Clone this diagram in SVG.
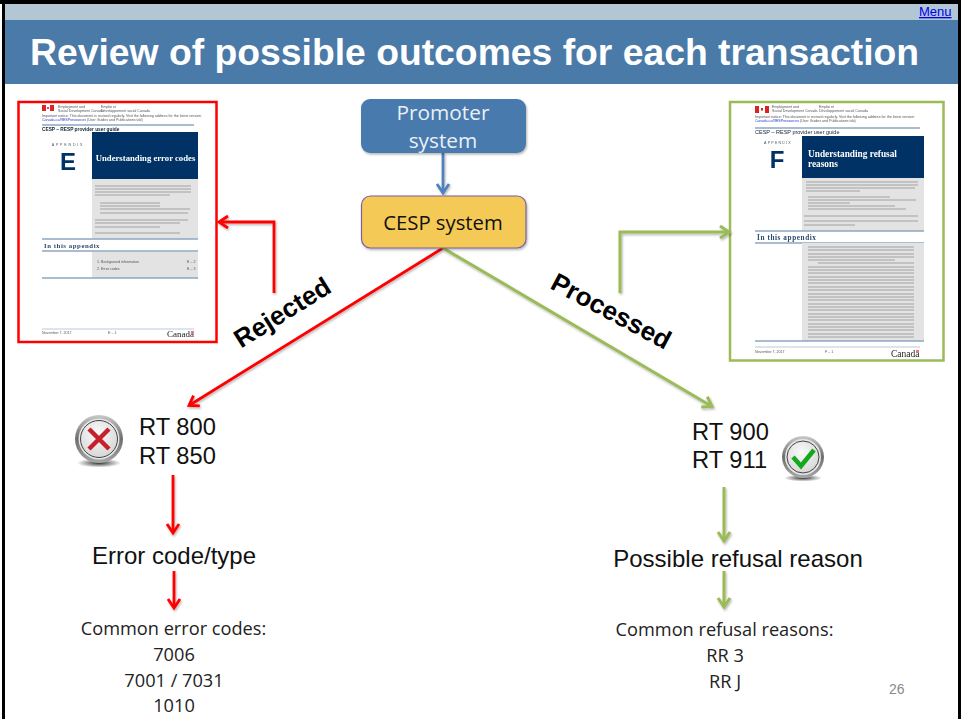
<svg xmlns="http://www.w3.org/2000/svg" width="961" height="719" viewBox="0 0 961 719">
<style>
.a{font-family:"Liberation Sans",Arial,sans-serif}
.o{font-family:"Open Sans","Noto Sans",sans-serif}
.s{font-family:"Liberation Serif",serif;font-weight:bold}
.big{font-size:23.700px;fill:#111}
.mid{font-size:24px;fill:#111;text-anchor:middle}
.list{font-size:18.200px;fill:#222;text-anchor:middle}
.lab{font-size:26px;font-weight:bold;fill:#000;text-anchor:middle}
.pan{fill:#e3e3e3}
.nav{fill:#003366}
.rule{stroke:#8ea6c0;stroke-width:1.5}
.tx{stroke:#777;stroke-width:.8;opacity:.75}
.r{fill:none;stroke:#f00;stroke-width:2.800}
.g{fill:none;stroke:#9bbb59;stroke-width:3}
.b{fill:none;stroke:#4f81bd;stroke-width:2.800}
.tiny{font-size:3.600px;fill:#555}
.doc{filter:url(#soft)}
</style>
<defs>
<filter id="sh" x="-30%" y="-30%" width="160%" height="160%"><feDropShadow dx="1" dy="1.500" stdDeviation="1.200" flood-color="#000" flood-opacity=".3"/></filter>
<filter id="soft" x="-2%" y="-2%" width="104%" height="104%"><feGaussianBlur stdDeviation=".3"/></filter>
<marker id="mr" markerWidth="6" markerHeight="6" refX="3" refY="3" orient="auto" markerUnits="userSpaceOnUse" viewBox="0 0 6 6" overflow="visible"><path d="M-6,-3 L3,3 L-6,9" fill="none" stroke="#f00" stroke-width="2.800"/></marker>
<marker id="mg" markerWidth="6" markerHeight="6" refX="3" refY="3" orient="auto" markerUnits="userSpaceOnUse" viewBox="0 0 6 6" overflow="visible"><path d="M-6,-3 L3,3 L-6,9" fill="none" stroke="#9bbb59" stroke-width="3"/></marker>
<marker id="mb" markerWidth="6" markerHeight="6" refX="3" refY="3" orient="auto" markerUnits="userSpaceOnUse" viewBox="0 0 6 6" overflow="visible"><path d="M-6,-3 L3,3 L-6,9" fill="none" stroke="#4f81bd" stroke-width="2.800"/></marker>
<radialGradient id="disc" cx=".45" cy=".35" r=".8"><stop offset="0" stop-color="#fafafa"/><stop offset="1" stop-color="#cfcfcf"/></radialGradient>
<linearGradient id="ring" x1="0" y1="0" x2="0" y2="1"><stop offset="0" stop-color="#c9c9c9"/><stop offset=".5" stop-color="#6d6d6d"/><stop offset="1" stop-color="#a9a9a9"/></linearGradient>
<radialGradient id="shd"><stop offset="0" stop-color="#333"/><stop offset="1" stop-color="#333" stop-opacity="0"/></radialGradient>
</defs>
<rect width="961" height="719" fill="#fff"/>
<rect x="0" y="0" width="961" height="4" fill="#000"/>
<rect x="2" y="0" width="3" height="719" fill="#000"/>
<rect x="958" y="0" width="3" height="719" fill="#000"/>
<g id="header">
<rect x="5" y="4" width="953" height="16" fill="#b3c6d4"/>
<rect x="5" y="20" width="953" height="64" fill="#4a7aa8"/>
<text class="a" x="919" y="16" font-size="13" fill="#0000ee" text-decoration="underline">Menu</text>
<text class="a" x="30" y="65" font-size="37.300" font-weight="bold" fill="#fff">Review of possible outcomes for each transaction</text>
</g>
<g id="doc-e">
<rect x="18.500" y="102" width="198" height="240" fill="#fff" stroke="#f00" stroke-width="2.500"/>
<g class="doc">
<rect x="42" y="105" width="12" height="6" fill="#d22"/><rect x="46" y="105" width="4" height="6" fill="#fff"/><rect x="47.200" y="107" width="1.600" height="2" fill="#d22"/>
<text class="a tiny" x="58" y="108">Employment and</text><text class="a tiny" x="58" y="112">Social Development Canada</text>
<text class="a tiny" x="101" y="108">Emploi et</text><text class="a tiny" x="101" y="112">Développement social Canada</text>
<text class="a tiny" x="42" y="117">Important notice: This document is revised regularly. Visit the following address for the latest version:</text>
<text class="a tiny" x="42" y="121"><tspan fill="#2233cc">Canada.ca/RESPresources</tspan> (User Guides and Publications tab)</text>
<line class="rule" x1="42" y1="125" x2="194" y2="125"/>
<text class="a" x="42" y="131" font-size="4.800" fill="#123" font-weight="bold">CESP – RESP provider user guide</text>
<rect class="nav" x="92" y="132" width="106" height="47"/>
<text class="a" x="68" y="145.500" font-size="3.600" fill="#456" text-anchor="middle" letter-spacing="1.800">APPENDIX</text>
<text class="a" x="68" y="169.500" font-size="24" font-weight="bold" fill="#003366" text-anchor="middle">E</text>
<text class="s" x="145.500" y="161" font-size="8.700" fill="#fff" text-anchor="middle">Understanding error codes</text>
<rect class="pan" x="92" y="179" width="106" height="60"/>
<path class="tx" d="M95 186H191M95 189H191M95 192H191M95 195H170M100 203H160M100 206H160M100 209H190M100 213H188M95 220H188M95 223H180M95 227H160M95 233H180"/>
<line class="rule" x1="42" y1="239" x2="198" y2="239"/>
<text class="s" x="44" y="248" font-size="6.800" fill="#2d4a6d" letter-spacing=".55">In this appendix</text>
<line class="rule" x1="42" y1="251" x2="198" y2="251"/>
<rect class="pan" x="92" y="252" width="106" height="26"/>
<text class="a tiny" x="97" y="263">1. Background information</text><text class="a tiny" x="187" y="263">E – 2</text>
<text class="a tiny" x="97" y="270">2. Error codes</text><text class="a tiny" x="187" y="270">E – 3</text>
<line class="rule" x1="42" y1="278" x2="198" y2="278"/>
<line class="rule" x1="42" y1="329" x2="194" y2="329" opacity=".4"/>
<text class="a tiny" x="42" y="334">November 7, 2017</text><text class="a tiny" x="108" y="334">E – 1</text>
<text class="s" x="167" y="337" font-size="9" fill="#222" style="font-weight:normal">Canada</text>
<rect x="191" y="331" width="3" height="2.500" fill="#e77"/>
</g>
</g>
<g id="doc-f">
<rect x="730" y="102" width="213.500" height="258.500" fill="#fff" stroke="#9bbb59" stroke-width="2.500"/>
<g class="doc">
<rect x="755" y="106" width="14" height="7" fill="#d22"/><rect x="759" y="106" width="6" height="7" fill="#fff"/><rect x="761" y="108" width="2" height="2.500" fill="#d22"/>
<text class="a tiny" x="772" y="108">Employment and</text><text class="a tiny" x="772" y="112">Social Development Canada</text>
<text class="a tiny" x="819" y="108">Emploi et</text><text class="a tiny" x="819" y="112">Développement social Canada</text>
<text class="a tiny" x="755" y="118">Important notice: This document is revised regularly. Visit the following address for the latest version:</text>
<text class="a tiny" x="755" y="122"><tspan fill="#2233cc">Canada.ca/RESPresources</tspan> (User Guides and Publications tab)</text>
<line class="rule" x1="755" y1="128" x2="920" y2="128"/>
<text class="a" x="755" y="134" font-size="5.500" fill="#123">CESP – RESP provider user guide</text>
<rect class="nav" x="802" y="136" width="122" height="42"/>
<text class="a" x="778" y="144" font-size="3.600" fill="#456" text-anchor="middle" letter-spacing="1.200">APPENDIX</text>
<text class="a" x="777" y="168" font-size="24" font-weight="bold" fill="#003366" text-anchor="middle">F</text>
<text class="s" x="808" y="157" font-size="9.300" fill="#fff">Understanding refusal</text>
<text class="s" x="808" y="167" font-size="9.300" fill="#fff">reasons</text>
<rect class="pan" x="802" y="178" width="122" height="53"/>
<path class="tx" d="M806 182H918M806 185H918M806 188H915M806 191H860M808 197H890M808 200H916M808 203H850M808 206H895M808 209H906M804 216H918M804 221H918M804 225H855"/>
<line class="rule" x1="755" y1="231" x2="924" y2="231"/>
<text class="s" x="757" y="240" font-size="7.200" fill="#2d4a6d" letter-spacing=".6">In this appendix</text>
<line class="rule" x1="755" y1="243" x2="924" y2="243"/>
<rect class="pan" x="802" y="243" width="122" height="98"/>
<path class="tx" d="M808 247H914M808 250H914M808 254H914M808 257H914M808 260H895M818 263H914M808 267H914M808 270H914M808 273H914M808 277H914M808 280H914M808 283H914M808 287H914M808 290H914M808 294H914M808 297H914M808 300H914M808 304H914M808 307H914M808 310H914M808 314H914M808 317H914M808 320H914M808 324H914M808 327H914M808 330H914M808 334H914M808 337H914"/>
<line class="rule" x1="755" y1="341" x2="924" y2="341"/>
<line class="rule" x1="755" y1="347" x2="920" y2="347" opacity=".4"/>
<text class="a tiny" x="755" y="353">November 7, 2017</text><text class="a tiny" x="825" y="353">F – 1</text>
<text class="s" x="891" y="357" font-size="9.500" fill="#222" style="font-weight:normal">Canada</text>
<rect x="916" y="350" width="3" height="2.500" fill="#e77"/>
</g>
</g>
<g id="connectors" filter="url(#sh)">
<path class="b" d="M443 153V193" marker-end="url(#mb)"/>
<path class="r" d="M443 248L189 405.500" marker-end="url(#mr)"/>
<path class="g" d="M443 248L712 406.500" marker-end="url(#mg)"/>
<path class="r" d="M274 293V222H219" marker-end="url(#mr)"/>
<path class="g" d="M620 293V232H729" marker-end="url(#mg)"/>
<path class="r" d="M173 475V533" marker-end="url(#mr)"/>
<path class="r" d="M174 571V608" marker-end="url(#mr)"/>
<path class="g" d="M724 487V541" marker-end="url(#mg)"/>
<path class="g" d="M724 571V607" marker-end="url(#mg)"/>
</g>
<g id="promoter">
<rect x="361" y="99" width="165" height="54" rx="9" fill="#4a7aad" filter="url(#sh)"/>
<text class="o" x="443" y="120" font-size="20.800" fill="#eaf0f7" text-anchor="middle">Promoter</text>
<text class="o" x="443" y="148" font-size="20.800" fill="#eaf0f7" text-anchor="middle">system</text>
</g>
<g id="cesp">
<rect x="361.500" y="196" width="164.500" height="52" rx="9" fill="#f5c955" stroke="#7a5fa0" stroke-width="1.200" filter="url(#sh)"/>
<text class="o" x="443" y="230" font-size="20.300" fill="#111" text-anchor="middle">CESP system</text>
</g>
<g id="label-rejected"><text class="a lab" transform="translate(287 320) rotate(-32)">Rejected</text></g>
<g id="label-processed"><text class="a lab" transform="translate(607 319) rotate(28)">Processed</text></g>
<g id="icon-x">
<ellipse cx="99" cy="463" rx="22" ry="4.500" fill="url(#shd)"/>
<circle cx="99" cy="439" r="24" fill="url(#ring)"/>
<circle cx="99" cy="439" r="20.500" fill="#e6e6e6"/>
<circle cx="99" cy="439" r="18.500" fill="url(#disc)" stroke="#444" stroke-width="1"/>
<path d="M89 429L109 449M109 429L89 449" stroke="#c8202a" stroke-width="4.500" fill="none"/>
</g>
<g id="rejected">
<text class="a big" x="139" y="435">RT 800</text>
<text class="a big" x="139" y="464">RT 850</text>
</g>
<g id="icon-check">
<ellipse cx="803" cy="478" rx="19" ry="3.500" fill="url(#shd)"/>
<circle cx="803" cy="457" r="21" fill="url(#ring)"/>
<circle cx="803" cy="457" r="18" fill="#e6e6e6"/>
<circle cx="803" cy="457" r="16" fill="url(#disc)" stroke="#444" stroke-width="1"/>
<path d="M793 457L801 466L814 450" stroke="#14a81e" stroke-width="4.500" fill="none"/>
</g>
<g id="processed">
<text class="a big" x="692" y="440">RT 900</text>
<text class="a big" x="692" y="468">RT 911</text>
</g>
<g id="error-type"><text class="a mid" x="174" y="564">Error code/type</text></g>
<g id="refusal-reason"><text class="a mid" x="738" y="567">Possible refusal reason</text></g>
<g id="error-codes">
<text class="o list" x="173.500" y="635">Common error codes:</text>
<text class="o list" x="174" y="661">7006</text>
<text class="o list" x="174" y="687">7001 / 7031</text>
<text class="o list" x="174" y="712">1010</text>
</g>
<g id="refusal-codes">
<text class="o list" x="724.500" y="636">Common refusal reasons:</text>
<text class="o list" x="725" y="662">RR 3</text>
<text class="o list" x="725" y="688">RR J</text>
</g>
<text class="a" x="889" y="694" font-size="14" fill="#8a8a8a">26</text>
</svg>
